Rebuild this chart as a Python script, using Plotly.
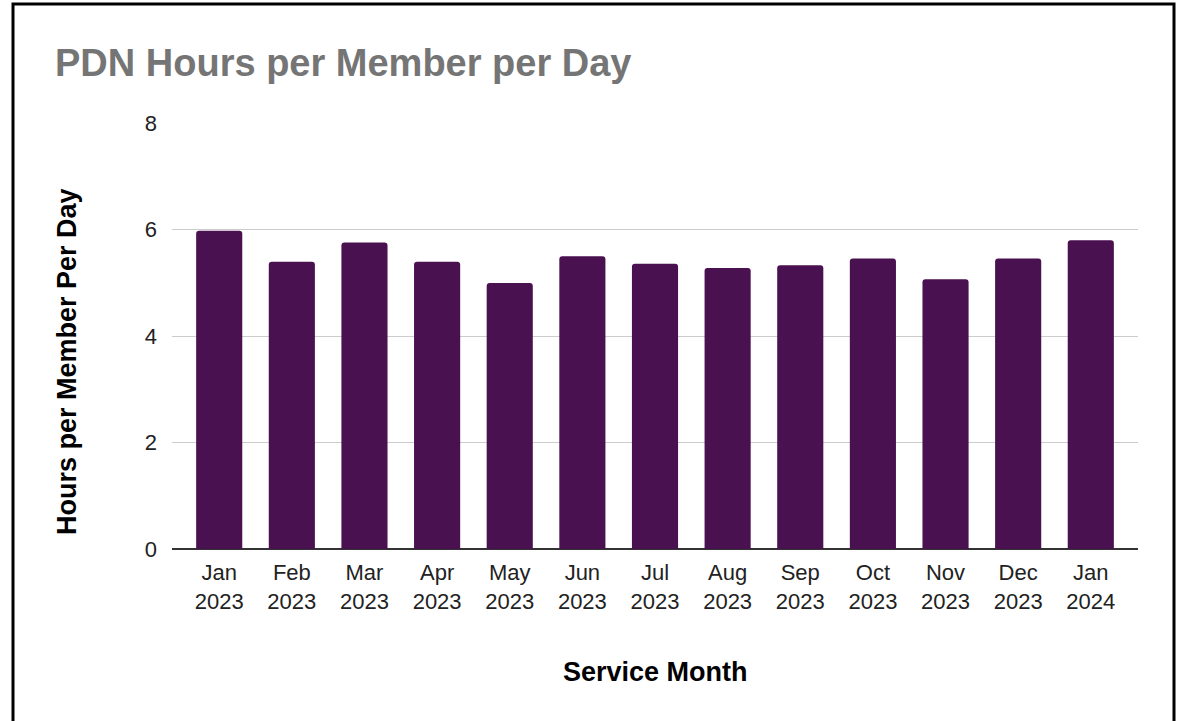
import plotly.graph_objects as go

months = ["Jan<br>2023", "Feb<br>2023", "Mar<br>2023", "Apr<br>2023", "May<br>2023", "Jun<br>2023",
          "Jul<br>2023", "Aug<br>2023", "Sep<br>2023", "Oct<br>2023", "Nov<br>2023", "Dec<br>2023",
          "Jan<br>2024"]
hours = [5.98, 5.40, 5.76, 5.40, 5.00, 5.50, 5.36, 5.28, 5.33, 5.46, 5.07, 5.46, 5.80]
y_ticks = [0, 2, 4, 6, 8]

W, H = 1179, 721
ml, mr, mt, mb = 172, 41, 123, 172
pw, ph = W - ml - mr, H - mt - mb

def px(x):
    return (x - ml) / pw

def py(y):
    return (H - mb - y) / ph

FONT = "Liberation Sans"

fig = go.Figure(go.Bar(
    x=list(range(len(months))), y=hours,
    marker=dict(color="#4a1150", line=dict(width=0)),
    width=0.635,
))

fig.update_layout(
    width=W, height=H,
    margin=dict(l=ml, r=mr, t=mt, b=mb, pad=0),
    paper_bgcolor="white", plot_bgcolor="white",
    barcornerradius=3,
    showlegend=False,
    font=dict(family=FONT, size=22, color="#222222"),
    xaxis=dict(
        range=[-0.65, 12.65],
        tickmode="array", tickvals=list(range(len(months))), ticktext=months,
        showgrid=False, zeroline=False, showline=False, ticks="",
        tickfont=dict(family=FONT, size=22, color="#222222"),
        ticklabelstandoff=8,
        fixedrange=True,
    ),
    yaxis=dict(
        range=[0, 8.005], tickvals=y_ticks,
        showgrid=True, gridcolor="#cccccc", gridwidth=1,
        zeroline=True, zerolinecolor="#333333", zerolinewidth=2,
        showline=False, ticks="",
        tickfont=dict(family=FONT, size=22, color="#222222"),
        ticklabelstandoff=14,
        fixedrange=True,
    ),
    annotations=[
        dict(text="<b>PDN Hours per Member per Day</b>", xref="paper", yref="paper",
             x=px(53), y=py(63), xanchor="left", yanchor="middle", showarrow=False,
             font=dict(family=FONT, size=38, color="#757575")),
        dict(text="<b>Hours per Member Per Day</b>", xref="paper", yref="paper",
             x=px(67), y=py(362), xanchor="center", yanchor="middle", showarrow=False,
             textangle=-90, font=dict(family=FONT, size=27, color="#000000")),
        dict(text="<b>Service Month</b>", xref="paper", yref="paper",
             x=px(655), y=py(672), xanchor="center", yanchor="middle", showarrow=False,
             font=dict(family=FONT, size=27, color="#000000")),
    ],
    shapes=[
        dict(type="path", xref="paper", yref="paper",
             path=f"M {px(13)} {py(730)} L {px(13)} {py(4)} L {px(1174)} {py(4)} L {px(1174)} {py(730)}",
             line=dict(color="#000000", width=3)),
    ],
)

fig.write_html("out.html", config={"displayModeBar": False},
               post_script="document.body.style.margin='0';document.body.style.overflow='hidden';")
